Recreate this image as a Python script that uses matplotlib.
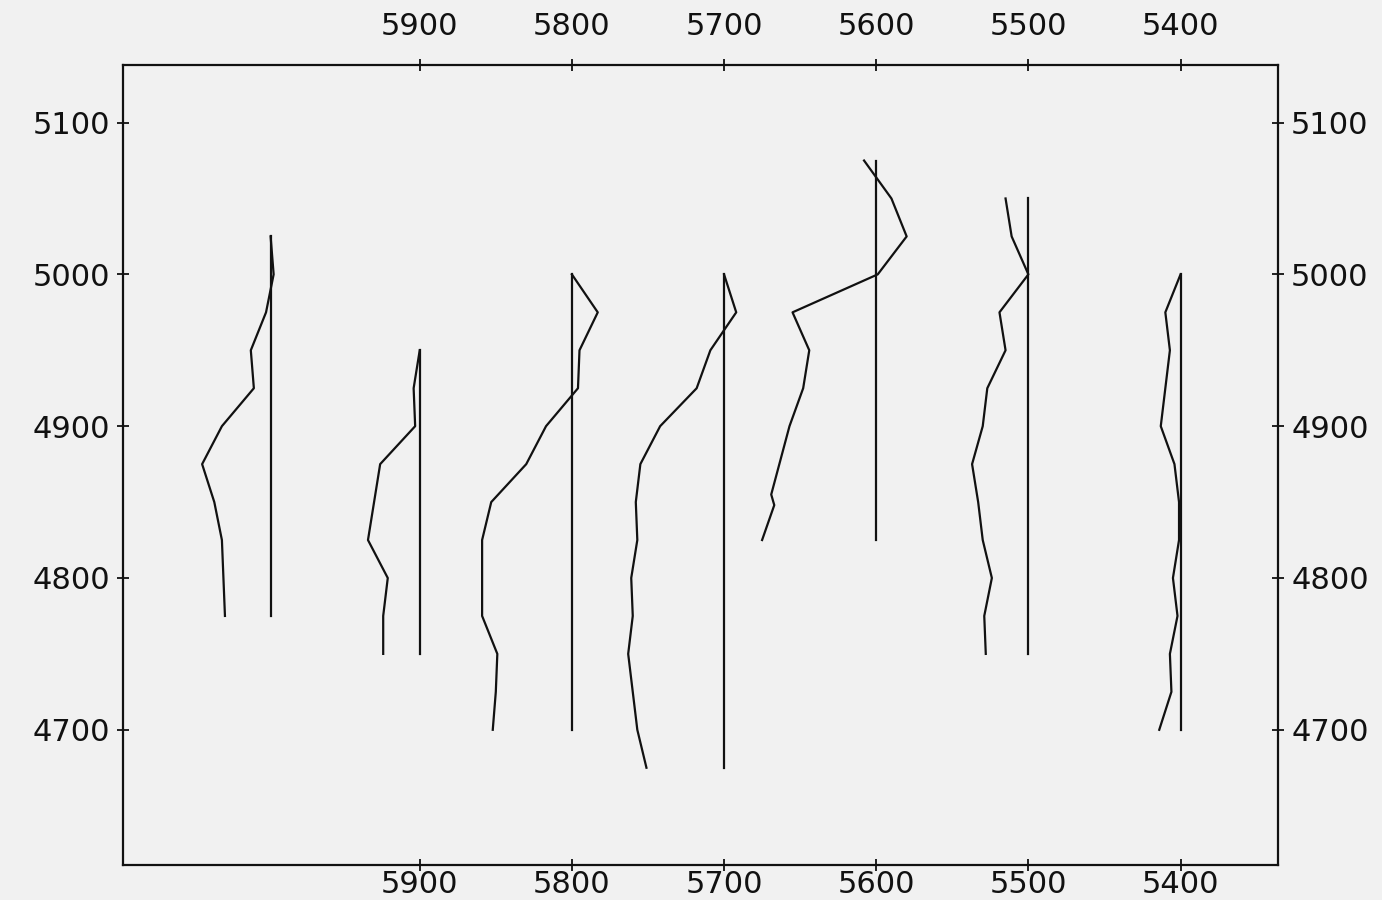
import numpy as np
import matplotlib
matplotlib.use("Agg")
import matplotlib.pyplot as plt

# well positions (x) and extent of the vertical reference line (depth)
well_x = [6000, 5900, 5800, 5700, 5600, 5500, 5400]
line_top = [5025, 4950, 5000, 5000, 5075, 5050, 5000]
line_bot = [4775, 4750, 4700, 4675, 4825, 4750, 4700]

# deviation traces: depth / x position
c6000_depth = [5025, 5000, 4975, 4950, 4925, 4900, 4875, 4850, 4825, 4775]
c6000_x = [5998, 5996, 6001, 6011, 6009, 6030, 6043, 6035, 6030, 6028]

c5900_depth = [4950, 4925, 4900, 4875, 4825, 4800, 4775, 4750]
c5900_x = [5900, 5904, 5903, 5926, 5934, 5921, 5924, 5924]

c5800_depth = [5000, 4975, 4950, 4925, 4900, 4875, 4850, 4825, 4775, 4750, 4725, 4700]
c5800_x = [5800, 5783, 5795, 5796, 5817, 5830, 5853, 5859, 5859, 5849, 5850, 5852]

c5700_depth = [5000, 4975, 4950, 4925, 4900, 4875, 4850, 4825, 4800, 4775, 4750, 4700, 4675]
c5700_x = [5700, 5692, 5709, 5718, 5742, 5755, 5758, 5757, 5761, 5760, 5763, 5757, 5751]

c5600_depth = [5075, 5050, 5025, 5000, 4975, 4950, 4925, 4900, 4855, 4848, 4825]
c5600_x = [5608, 5590, 5580, 5599, 5655, 5644, 5648, 5657, 5669, 5667, 5675]

c5500_depth = [5050, 5025, 5000, 4975, 4950, 4925, 4900, 4875, 4850, 4825, 4800, 4775, 4750]
c5500_x = [5515, 5511, 5500, 5519, 5515, 5527, 5530, 5537, 5533, 5530, 5524, 5529, 5528]

c5400_depth = [5000, 4975, 4950, 4900, 4875, 4850, 4825, 4800, 4775, 4750, 4725, 4700]
c5400_x = [5400, 5410, 5407, 5413, 5404, 5401, 5401, 5405, 5402, 5407, 5406, 5414]

curves = [(c6000_x, c6000_depth), (c5900_x, c5900_depth), (c5800_x, c5800_depth),
          (c5700_x, c5700_depth), (c5600_x, c5600_depth), (c5500_x, c5500_depth),
          (c5400_x, c5400_depth)]

xticks = [5900, 5800, 5700, 5600, 5500, 5400]
yticks = [5100, 5000, 4900, 4800, 4700]

bg = "#f1f1f1"
ink = "#111111"

fig = plt.figure(figsize=(13.82, 9), dpi=100, facecolor=bg)
ax = fig.add_axes([0.089, 0.039, 0.8357, 0.8889], facecolor=bg)

# first well line sits a touch right of the linear scale in the scan
well_draw = [5998] + well_x[1:]
for wx, t, b in zip(well_draw, line_top, line_bot):
    ax.plot([wx, wx], [t, b], color=ink, lw=1.6)

for cx, cd in curves:
    ax.plot(cx, cd, color=ink, lw=1.6)

ax.set_xlim(6095, 5336)
ax.set_ylim(4611, 5138)

for s in ax.spines.values():
    s.set_linewidth(1.6)
    s.set_color(ink)

fs = 22
ax.set_xticks(xticks)
ax.set_yticks(yticks)
ax.tick_params(axis="x", direction="inout", length=9, width=1.3, color=ink,
               labelsize=fs, pad=-1, labelcolor=ink)
ax.tick_params(axis="y", direction="inout", length=9, width=1.3, color=ink,
               labelsize=fs, left=True, right=True, labelleft=True,
               labelright=True, pad=5, labelcolor=ink)

top = ax.secondary_xaxis("top")
top.set_xticks(xticks)
top.tick_params(direction="inout", length=9, width=1.3, color=ink,
                labelsize=fs, pad=13, labelcolor=ink)
top.spines["top"].set_visible(False)

fig.savefig("out.png", dpi=100, facecolor=bg)
